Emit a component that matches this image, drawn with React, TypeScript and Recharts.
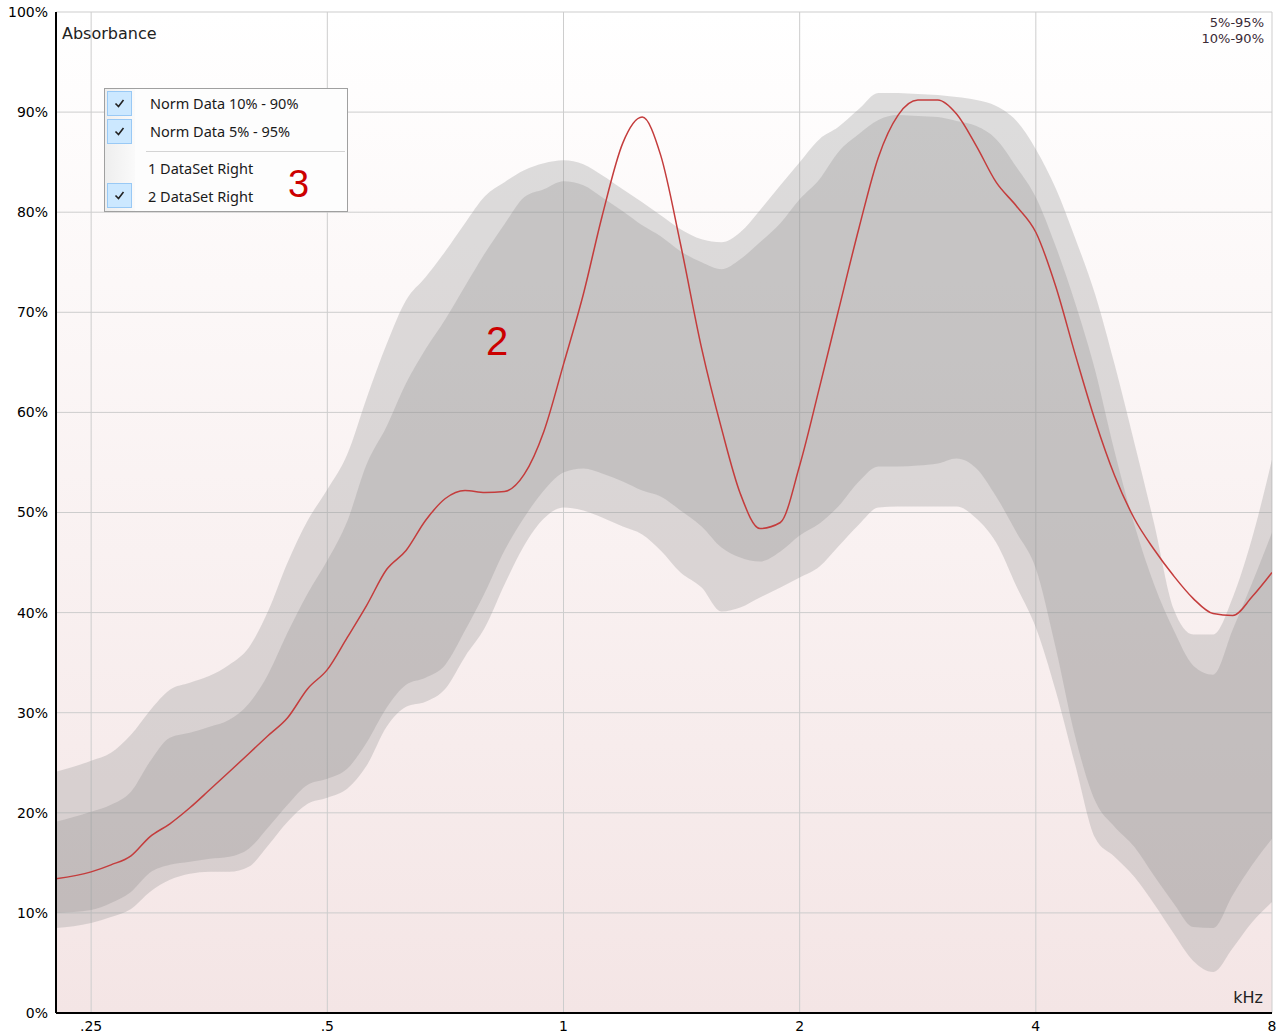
import React from "react";
import { ComposedChart, Area, Line, XAxis, YAxis, CartesianGrid } from "recharts";

// frequency grid (kHz), roughly 1/12 octave
const freqs = [0.2255, 0.25, 0.265, 0.281, 0.297, 0.315, 0.334, 0.354, 0.375, 0.397, 0.42, 0.445, 0.472, 0.5, 0.53, 0.561, 0.595, 0.63, 0.667, 0.707, 0.749, 0.794, 0.841, 0.891, 0.944, 1, 1.06, 1.12, 1.19, 1.26, 1.33, 1.41, 1.5, 1.59, 1.68, 1.78, 1.89, 2, 2.12, 2.24, 2.38, 2.52, 2.67, 2.83, 3, 3.17, 3.36, 3.56, 3.78, 4, 4.24, 4.49, 4.76, 5.04, 5.34, 5.66, 5.99, 6.35, 6.73, 7.13, 7.55, 8];

// norm data percentiles (%)
const p5 = [8.5, 9.0, 9.6, 10.4, 12.1, 13.3, 13.9, 14.1, 14.1, 14.6, 16.7, 19.1, 20.9, 21.5, 22.4, 24.7, 28.6, 30.6, 31.1, 32.4, 35.6, 38.5, 42.8, 46.7, 49.4, 50.5, 50.2, 49.5, 48.6, 47.8, 46.2, 44.0, 42.5, 40.1, 40.5, 41.5, 42.5, 43.5, 44.6, 46.6, 48.8, 50.5, 50.6, 50.6, 50.6, 50.6, 49.4, 47.0, 42.6, 38.5, 32.2, 24.8, 17.5, 15.6, 13.6, 10.9, 8.0, 5.2, 4.1, 6.5, 9.1, 11.1];
const p10 = [10.0, 10.3, 11.0, 12.1, 14.0, 14.8, 15.1, 15.4, 15.6, 16.4, 18.5, 20.8, 22.8, 23.4, 24.4, 27.0, 30.5, 32.8, 33.5, 34.8, 38.2, 42.0, 46.2, 49.5, 52.2, 54.0, 54.4, 53.9, 53.1, 52.2, 51.6, 50.2, 48.6, 46.5, 45.5, 45.1, 46.1, 47.7, 48.9, 50.6, 53.1, 54.6, 54.6, 54.7, 54.9, 55.4, 54.4, 51.6, 48.0, 44.4, 36.5, 27.6, 21.2, 18.6, 16.6, 13.7, 11.0, 8.6, 8.5, 11.8, 14.8, 17.4];
const p90 = [19.1, 20.1, 20.8, 22.1, 25.1, 27.5, 28.0, 28.6, 29.3, 30.9, 33.8, 38.0, 41.9, 45.2, 49.1, 54.8, 58.6, 62.9, 66.3, 69.3, 72.6, 75.9, 78.8, 81.5, 82.3, 83.1, 82.7, 81.5, 80.1, 78.7, 77.6, 76.1, 75.0, 74.3, 75.3, 77.0, 78.9, 81.3, 83.3, 86.0, 87.8, 89.2, 89.7, 89.6, 89.5, 89.1, 88.6, 87.3, 84.5, 81.5, 76.6, 70.9, 64.2, 56.1, 48.8, 42.8, 38.3, 34.7, 33.8, 38.3, 43.0, 48.0];
const p95 = [24.1, 25.2, 26.0, 27.8, 30.2, 32.3, 33.0, 33.7, 34.8, 36.5, 40.1, 45.0, 49.2, 52.3, 55.8, 61.4, 66.8, 71.2, 73.5, 76.1, 78.9, 81.6, 83.0, 84.2, 84.9, 85.2, 84.8, 83.7, 82.3, 81.0, 79.7, 78.3, 77.3, 77.0, 78.0, 80.2, 82.7, 85.0, 87.3, 88.5, 90.3, 91.9, 91.9, 91.8, 91.7, 91.5, 91.2, 90.6, 89.1, 86.3, 82.4, 77.4, 71.8, 64.8, 57.0, 48.9, 40.4, 37.8, 37.8, 41.5, 47.5, 55.3];

// "2 DataSet Right" absorbance (%)
const dataSet2 = [13.4, 14.1, 14.8, 15.7, 17.6, 18.9, 20.5, 22.3, 24.1, 25.9, 27.7, 29.5, 32.4, 34.3, 37.5, 40.7, 44.3, 46.2, 49.2, 51.4, 52.2, 52.0, 52.1, 53.8, 58.1, 64.8, 71.8, 79.6, 86.9, 89.5, 85.7, 76.8, 66.4, 58.4, 51.9, 48.4, 49.0, 54.7, 62.5, 70.1, 78.4, 85.5, 89.7, 91.2, 91.2, 89.8, 86.6, 83.0, 80.6, 78.0, 72.6, 65.8, 59.2, 53.7, 49.4, 46.3, 43.7, 41.4, 39.9, 39.7, 41.6, 44.0];

const xTicks = [0.25, 0.5, 1, 2, 4, 8];
const yTicks = [0, 10, 20, 30, 40, 50, 60, 70, 80, 90, 100];
const legendItems = ["Norm Data 10% - 90%", "Norm Data 5% - 95%", "1 DataSet Right", "2 DataSet Right"];
const legendChecked = [true, true, false, true];

const rows = freqs.map((f, i) => ({
  f,
  outer: [p5[i], p95[i]],
  inner: [p10[i], p90[i]],
  ds2: dataSet2[i],
}));

const fmtKHz = (v: number) => (v < 1 ? String(v).replace(/^0/, "") : String(v));
const axisFont = { fill: "#000", fontSize: 14, fontFamily: "DejaVu Sans" };

function Check({ y }: { y: number }) {
  return (
    <g>
      <rect x={107.5} y={y} width={24} height={24} fill="#cce8ff" stroke="#99c9f5" />
      <path d={`M115.5 ${y + 12} L118.5 ${y + 15} L123.5 ${y + 8.5}`} fill="none" stroke="#222" strokeWidth={1.6} />
    </g>
  );
}

function Overlay() {
  const rowY = [109, 137, 174, 202];
  const boxY = [91.5, 119.5, 0, 183.5];
  return (
    <svg width={1283} height={1035} style={{ position: "absolute", left: 0, top: 0, pointerEvents: "none" }}>
      <defs>
        <linearGradient id="strip" x1="0" y1="0" x2="1" y2="0">
          <stop offset="0" stopColor="#eeeeee" />
          <stop offset="1" stopColor="#fafafa" />
        </linearGradient>
      </defs>
      <text x={62} y={39} fontFamily="DejaVu Sans" fontSize={16} fill="#222">Absorbance</text>
      <text x={1264} y={27} textAnchor="end" fontFamily="DejaVu Sans" fontSize={13} fill="#3a2a35">5%-95%</text>
      <text x={1264} y={43} textAnchor="end" fontFamily="DejaVu Sans" fontSize={13} fill="#3a2a35">10%-90%</text>
      <text x={1263} y={1003} textAnchor="end" fontFamily="DejaVu Sans" fontSize={16} fill="#222">kHz</text>
      <text x={486} y={355} fontFamily="Liberation Sans" fontSize={40} fill="#cc0000">2</text>

      <rect x={104.5} y={88.5} width={243} height={123} fill="#fdfdfd" stroke="#a0a0a0" />
      <rect x={105} y={89} width={30} height={122} fill="url(#strip)" />
      <line x1={146} x2={345} y1={151.5} y2={151.5} stroke="#d4d4d4" />
      {legendItems.map((t, i) => (
        <g key={t}>
          {legendChecked[i] && <Check y={boxY[i]} />}
          <text x={i < 2 ? 150 : 148} y={rowY[i]} fontFamily="Noto Sans" fontSize={14.5} fill="#1a1a1a">{t}</text>
        </g>
      ))}
      <text x={288} y={197} fontFamily="Liberation Sans" fontSize={38} fill="#cc0000">3</text>
    </svg>
  );
}

export default function App() {
  return (
    <div style={{ position: "absolute", left: 0, top: 0, width: 1283, height: 1035, background: "#fff" }}>
      <ComposedChart width={1283} height={1035} data={rows} margin={{ top: 12, right: 11, bottom: 0, left: 0 }}>
        <defs>
          <linearGradient id="bg" x1="0" y1="0" x2="0" y2="1">
            <stop offset="0" stopColor="#ffffff" />
            <stop offset="1" stopColor="#f4e5e5" />
          </linearGradient>
        </defs>
        <CartesianGrid stroke="#cdcdcd" fill="url(#bg)" fillOpacity={1} />
        <XAxis
          dataKey="f"
          type="number"
          scale="log"
          domain={[0.2255, 8]}
          allowDataOverflow
          ticks={xTicks}
          interval={0}
          tickFormatter={fmtKHz}
          tickLine={false}
          axisLine={{ stroke: "#000", strokeWidth: 2 }}
          tick={axisFont}
          height={22}
        />
        <YAxis
          type="number"
          domain={[0, 100]}
          ticks={yTicks}
          interval={0}
          tickFormatter={(v: number) => `${v}%`}
          tickLine={false}
          axisLine={{ stroke: "#000", strokeWidth: 2 }}
          tick={axisFont}
          width={56}
        />
        <Area dataKey="outer" type="monotoneX" stroke="none" fill="#9b9b9b" fillOpacity={0.33} isAnimationActive={false} />
        <Area dataKey="inner" type="monotoneX" stroke="none" fill="#898989" fillOpacity={0.26} isAnimationActive={false} />
        <Line dataKey="ds2" type="monotoneX" stroke="#c43c3c" strokeWidth={1.5} dot={false} isAnimationActive={false} />
      </ComposedChart>
      <Overlay />
    </div>
  );
}
